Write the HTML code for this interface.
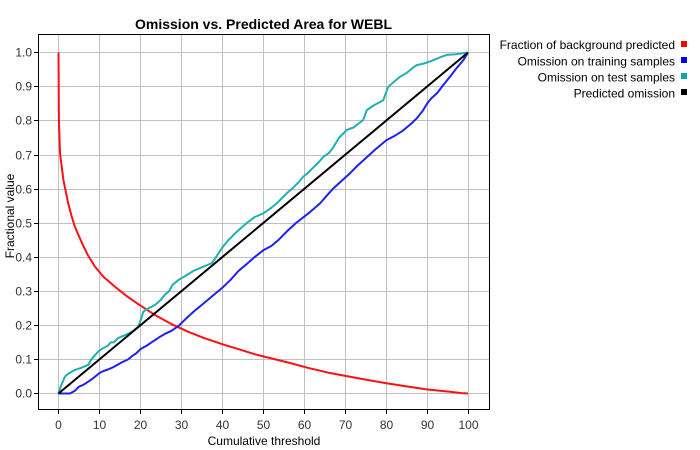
<!DOCTYPE html>
<html><head><meta charset="utf-8"><style>
html,body{margin:0;padding:0;background:#fff;}
svg{display:block;font-family:"Liberation Sans",sans-serif;}
</style></head><body>
<svg width="700" height="450" viewBox="0 0 700 450" xmlns="http://www.w3.org/2000/svg">
<rect x="0" y="0" width="700" height="450" fill="#fff"/>
<text x="263.5" y="29" font-size="14" font-weight="bold" text-anchor="middle" fill="#000">Omission vs. Predicted Area for WEBL</text>
<rect x="38.5" y="34.5" width="451" height="375" fill="#fff"/>
<g stroke="#c0c0c0" stroke-width="1">
<line x1="58.5" y1="34.5" x2="58.5" y2="409.5"/>
<line x1="99.5" y1="34.5" x2="99.5" y2="409.5"/>
<line x1="140.5" y1="34.5" x2="140.5" y2="409.5"/>
<line x1="181.5" y1="34.5" x2="181.5" y2="409.5"/>
<line x1="222.5" y1="34.5" x2="222.5" y2="409.5"/>
<line x1="263.5" y1="34.5" x2="263.5" y2="409.5"/>
<line x1="304.5" y1="34.5" x2="304.5" y2="409.5"/>
<line x1="345.5" y1="34.5" x2="345.5" y2="409.5"/>
<line x1="386.5" y1="34.5" x2="386.5" y2="409.5"/>
<line x1="427.5" y1="34.5" x2="427.5" y2="409.5"/>
<line x1="468.5" y1="34.5" x2="468.5" y2="409.5"/>
<line x1="38.5" y1="393.5" x2="489.5" y2="393.5"/>
<line x1="38.5" y1="359.5" x2="489.5" y2="359.5"/>
<line x1="38.5" y1="325.5" x2="489.5" y2="325.5"/>
<line x1="38.5" y1="291.5" x2="489.5" y2="291.5"/>
<line x1="38.5" y1="257.5" x2="489.5" y2="257.5"/>
<line x1="38.5" y1="223.5" x2="489.5" y2="223.5"/>
<line x1="38.5" y1="189.5" x2="489.5" y2="189.5"/>
<line x1="38.5" y1="155.5" x2="489.5" y2="155.5"/>
<line x1="38.5" y1="120.5" x2="489.5" y2="120.5"/>
<line x1="38.5" y1="86.5" x2="489.5" y2="86.5"/>
<line x1="38.5" y1="52.5" x2="489.5" y2="52.5"/>
</g>
<g fill="none" stroke-width="2" stroke-linejoin="round" transform="translate(58.5,393.5) scale(4.095,-341)">
<polyline vector-effect="non-scaling-stroke" stroke="#ff1010" points="0,1 0.05,0.9 0.1,0.8 0.37,0.705 1.2,0.626 2.4,0.556 3.2,0.52 4,0.489 5.7,0.442 7.2,0.405 8.9,0.372 11,0.342 13.8,0.313 16.5,0.287 19.5,0.262 23.6,0.23 27.5,0.204 31.7,0.181 35.5,0.163 39.9,0.145 44,0.13 48,0.115 52,0.103 57,0.088 61,0.075 66.3,0.06 73,0.045 80.1,0.03 85,0.021 89.9,0.012 95,0.006 98.5,0.001 100,0"/>
<polyline vector-effect="non-scaling-stroke" stroke="#2020f0" points="0,0 2.8,0 4,0.008 5,0.02 6,0.025 7.3,0.035 8.5,0.045 10,0.06 11,0.066 12,0.07 13.5,0.078 15.4,0.091 17,0.1 18,0.11 19,0.118 20,0.13 21.5,0.14 23.6,0.157 25,0.168 26,0.175 27.5,0.183 29.3,0.198 31,0.218 33,0.24 35,0.26 37.4,0.284 38.5,0.295 40,0.31 42,0.333 44,0.36 46,0.38 48,0.401 50,0.42 52,0.433 53.7,0.45 56,0.478 58,0.5 61,0.528 63.9,0.558 65.5,0.58 67,0.6 69,0.622 71.2,0.646 73,0.668 75,0.69 77.5,0.717 80.1,0.743 82,0.755 84,0.77 86,0.79 87.5,0.807 89,0.83 90,0.85 91,0.865 92.4,0.88 94,0.905 95,0.92 96,0.935 97.2,0.954 98,0.965 99,0.98 100,1"/>
<polyline vector-effect="non-scaling-stroke" stroke="#20b0b0" points="0,0 0.5,0.02 1.6,0.05 2.5,0.059 4,0.069 5.5,0.075 7.3,0.084 8,0.1 9.7,0.123 10.5,0.13 12,0.14 12.8,0.15 13.5,0.15 14.5,0.162 15.4,0.167 17,0.175 18.5,0.186 19.5,0.196 20.2,0.22 20.7,0.24 22,0.25 23.6,0.26 25,0.275 26,0.29 27,0.3 27.8,0.318 29.3,0.333 31,0.345 33,0.36 35,0.37 37.4,0.382 38.2,0.395 39,0.41 40,0.428 41.5,0.45 43,0.468 45,0.49 46.5,0.505 48,0.518 50,0.528 52,0.545 53.5,0.56 54.9,0.577 56,0.59 57,0.6 58.5,0.618 59.8,0.636 61,0.648 62,0.66 63.5,0.678 64.7,0.694 66,0.705 67,0.72 68.5,0.75 70.4,0.773 72,0.78 74.4,0.802 75.3,0.831 77,0.845 79.3,0.86 80.5,0.899 82,0.915 83.4,0.929 85,0.94 86.5,0.955 87.5,0.963 89,0.967 91,0.975 93,0.985 94.8,0.993 97,0.995 99,0.998 100,1"/>
<polyline vector-effect="non-scaling-stroke" stroke="#000" points="0,0 100,1"/>
</g>
<rect x="38.5" y="34.5" width="451" height="375" fill="none" stroke="#000" stroke-width="1"/>
<g stroke="#000" stroke-width="1">
<line x1="58.5" y1="410" x2="58.5" y2="414"/>
<line x1="99.5" y1="410" x2="99.5" y2="414"/>
<line x1="140.5" y1="410" x2="140.5" y2="414"/>
<line x1="181.5" y1="410" x2="181.5" y2="414"/>
<line x1="222.5" y1="410" x2="222.5" y2="414"/>
<line x1="263.5" y1="410" x2="263.5" y2="414"/>
<line x1="304.5" y1="410" x2="304.5" y2="414"/>
<line x1="345.5" y1="410" x2="345.5" y2="414"/>
<line x1="386.5" y1="410" x2="386.5" y2="414"/>
<line x1="427.5" y1="410" x2="427.5" y2="414"/>
<line x1="468.5" y1="410" x2="468.5" y2="414"/>
<line x1="34" y1="393.5" x2="38" y2="393.5"/>
<line x1="34" y1="359.5" x2="38" y2="359.5"/>
<line x1="34" y1="325.5" x2="38" y2="325.5"/>
<line x1="34" y1="291.5" x2="38" y2="291.5"/>
<line x1="34" y1="257.5" x2="38" y2="257.5"/>
<line x1="34" y1="223.5" x2="38" y2="223.5"/>
<line x1="34" y1="189.5" x2="38" y2="189.5"/>
<line x1="34" y1="155.5" x2="38" y2="155.5"/>
<line x1="34" y1="120.5" x2="38" y2="120.5"/>
<line x1="34" y1="86.5" x2="38" y2="86.5"/>
<line x1="34" y1="52.5" x2="38" y2="52.5"/>
</g>
<g font-size="12" fill="#333" text-anchor="middle">
<text x="58.5" y="429">0</text>
<text x="99.5" y="429">10</text>
<text x="140.5" y="429">20</text>
<text x="181.5" y="429">30</text>
<text x="222.5" y="429">40</text>
<text x="263.5" y="429">50</text>
<text x="304.5" y="429">60</text>
<text x="345.5" y="429">70</text>
<text x="386.5" y="429">80</text>
<text x="427.5" y="429">90</text>
<text x="468.5" y="429">100</text>
</g>
<g font-size="12" fill="#333" text-anchor="end">
<text x="32" y="397.5">0.0</text>
<text x="32" y="363.5">0.1</text>
<text x="32" y="329.5">0.2</text>
<text x="32" y="295.5">0.3</text>
<text x="32" y="261.5">0.4</text>
<text x="32" y="227.5">0.5</text>
<text x="32" y="193.5">0.6</text>
<text x="32" y="159.5">0.7</text>
<text x="32" y="124.5">0.8</text>
<text x="32" y="90.5">0.9</text>
<text x="32" y="56.5">1.0</text>
</g>
<text x="264" y="445" font-size="12" fill="#000" text-anchor="middle">Cumulative threshold</text>
<text transform="translate(14,216) rotate(-90)" font-size="12" fill="#000" text-anchor="middle">Fractional value</text>
<g font-size="12" fill="#000" text-anchor="end">
<text x="675" y="49">Fraction of background predicted</text>
<text x="675" y="65.5">Omission on training samples</text>
<text x="675" y="81.5">Omission on test samples</text>
<text x="675" y="97.5">Predicted omission</text>
</g>
<rect x="681" y="41" width="6" height="6" fill="#ff0000"/>
<rect x="681" y="57" width="6" height="6" fill="#0000ff"/>
<rect x="681" y="73" width="6" height="6" fill="#00aaaa"/>
<rect x="681" y="89" width="6" height="6" fill="#000"/>
</svg>
</body></html>
